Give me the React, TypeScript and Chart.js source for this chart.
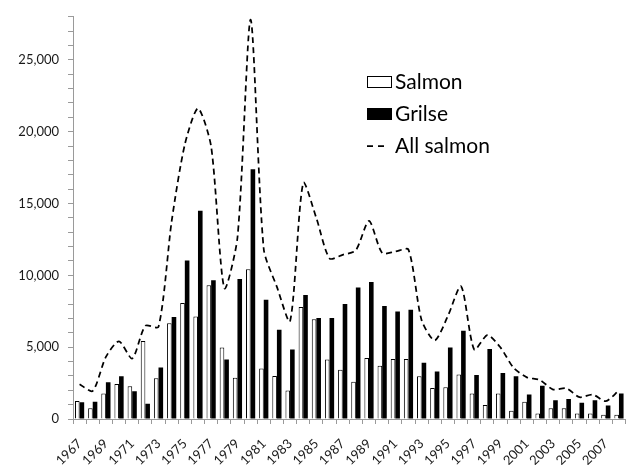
import React, { useEffect, useRef } from 'react';
import { Chart, registerables } from 'chart.js';

Chart.register(...registerables);

const years = [
  '1967', '1968', '1969', '1970', '1971', '1972', '1973', '1974', '1975', '1976',
  '1977', '1978', '1979', '1980', '1981', '1982', '1983', '1984', '1985', '1986',
  '1987', '1988', '1989', '1990', '1991', '1992', '1993', '1994', '1995', '1996',
  '1997', '1998', '1999', '2000', '2001', '2002', '2003', '2004', '2005', '2006',
  '2007', '2008',
];

const salmon = [
  1250, 750, 1770, 2440, 2280, 5430, 2830, 6670, 8070, 7130,
  9310, 4970, 2870, 10420, 3520, 2990, 1980, 7790, 6940, 4140,
  3430, 2600, 4250, 3700, 4180, 4180, 2970, 2160, 2210, 3100,
  1770, 970, 1770, 580, 1200, 390, 740, 740, 390, 390,
  300, 300,
];

const grilse = [
  1170, 1200, 2550, 2970, 1930, 1060, 3590, 7100, 11040, 14490,
  9660, 4140, 9750, 17380, 8300, 6210, 4830, 8640, 7040, 7040,
  8000, 9150, 9540, 7860, 7480, 7610, 3910, 3310, 4970, 6140,
  3060, 4870, 3200, 2970, 1700, 2320, 1310, 1400, 1130, 1310,
  940, 1770,
];

const allSalmon = [
  2420, 1950, 4320, 5410, 4210, 6490, 6420, 13770, 19110, 21620,
  18970, 9110, 12620, 27800, 11820, 9200, 6810, 16430, 13980, 11180,
  11430, 11750, 13790, 11560, 11660, 11790, 6880, 5470, 7180, 9240,
  4830, 5840, 4970, 3550, 2900, 2710, 2050, 2140, 1520, 1700,
  1240, 2000,
];

const yTickLabels = ['0', '5,000', '10,000', '15,000', '20,000', '25,000'];

const FONT = 'Lato, "Open Sans", "DejaVu Sans", sans-serif';

const legendPlugin = {
  id: 'customLegend',
  afterDraw(chart: any) {
    const ctx = chart.ctx as CanvasRenderingContext2D;
    ctx.save();
    ctx.font = `21px ${FONT}`;
    ctx.textBaseline = 'alphabetic';
    ctx.textAlign = 'left';
    // Salmon
    ctx.fillStyle = '#ffffff';
    ctx.fillRect(367.5, 76.5, 24, 11);
    ctx.strokeStyle = '#000000';
    ctx.lineWidth = 1;
    ctx.strokeRect(367.5, 76.5, 24, 11);
    ctx.fillStyle = '#000000';
    ctx.fillText('Salmon', 395, 89);
    // Grilse
    ctx.fillRect(367, 108, 25, 12);
    ctx.fillText('Grilse', 395, 121);
    // All salmon
    ctx.setLineDash([6, 5]);
    ctx.lineWidth = 1.75;
    ctx.beginPath();
    ctx.moveTo(367, 146);
    ctx.lineTo(386, 146);
    ctx.stroke();
    ctx.setLineDash([]);
    ctx.fillText('All salmon', 395, 153);
    ctx.restore();
  },
};

export default function App() {
  const ref = useRef<HTMLCanvasElement | null>(null);

  useEffect(() => {
    document.body.style.margin = '0';
    const canvas = ref.current;
    if (!canvas) return;
    Chart.defaults.font.family = FONT;
    const chart = new Chart(canvas, {
      type: 'bar',
      data: {
        labels: years,
        datasets: [
          {
            type: 'line' as const,
            label: 'All salmon',
            data: allSalmon,
            borderColor: '#000000',
            borderWidth: 1.75,
            borderDash: [6, 4],
            pointRadius: 0,
            fill: false,
            tension: 0.25,
            order: 0,
          } as any,
          {
            label: 'Salmon',
            data: salmon,
            backgroundColor: '#ffffff',
            borderColor: '#000000',
            borderWidth: 1,
            categoryPercentage: 0.7,
            barPercentage: 1.0,
            order: 1,
          },
          {
            label: 'Grilse',
            data: grilse,
            backgroundColor: '#000000',
            borderColor: '#000000',
            borderWidth: 0,
            categoryPercentage: 0.7,
            barPercentage: 1.0,
            order: 1,
          },
        ],
      },
      options: {
        animation: false,
        responsive: false,
        maintainAspectRatio: false,
        layout: { padding: { top: 14, right: 1, left: 0, bottom: 0 } },
        plugins: {
          legend: { display: false },
          tooltip: { enabled: false },
        },
        scales: {
          x: {
            ticks: {
              autoSkip: false,
              maxRotation: 45,
              minRotation: 45,
              color: '#1a1a1a',
              font: { size: 13, family: FONT },
              padding: 12,
              callback: (_v: any, i: number) => (i % 2 === 0 ? years[i] : ''),
            },
            grid: { drawOnChartArea: false, drawTicks: true, tickLength: 5, color: '#9a9a9a', offset: true },
            border: { color: '#9a9a9a' },
            afterFit: (s: any) => {
              s.height = 46;
            },
          },
          y: {
            min: 0,
            max: 28000,
            ticks: {
              stepSize: 1000,
              autoSkip: false,
              color: '#1a1a1a',
              font: { size: 13, family: FONT },
              padding: 9,
              callback: (v: any) => (Number(v) % 5000 === 0 ? yTickLabels[Number(v) / 5000] : ''),
            },
            grid: { drawOnChartArea: false, drawTicks: true, tickLength: 5, color: '#9a9a9a' },
            border: { color: '#9a9a9a' },
            afterFit: (s: any) => {
              s.width = 73;
            },
          },
        },
      },
      plugins: [legendPlugin],
    });
    return () => chart.destroy();
  }, []);

  return (
    <div style={{ width: 642, height: 465, background: '#ffffff' }}>
      <canvas ref={ref} width={642} height={465} style={{ display: 'block' }} />
    </div>
  );
}
